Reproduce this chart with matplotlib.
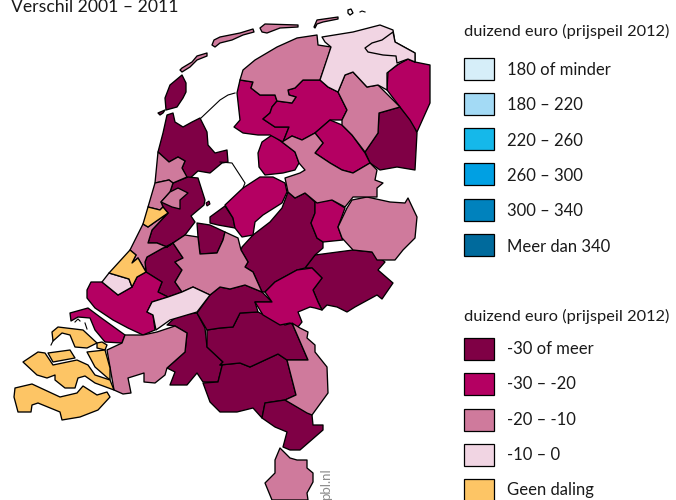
import matplotlib
matplotlib.use('Agg')
import matplotlib.pyplot as plt
from matplotlib.patches import Polygon, Rectangle

plt.rcParams['font.family'] = ['Lato', 'DejaVu Sans']

title = 'Verschil 2001 – 2011'
legend_title = 'duizend euro (prijspeil 2012)'
labels_top = ['180 of minder', '180 – 220', '220 – 260', '260 – 300', '300 – 340', 'Meer dan 340']
colors_top = ['#d6eef9', '#a3daf5', '#15b8ea', '#00a0e3', '#0082bd', '#006a9c']
labels_bottom = ['-30 of meer', '-30 – -20', '-20 – -10', '-10 – 0', 'Geen daling']
colors_bottom = ['#7f0045', '#b40062', '#cf7a9c', '#f1d5e3', '#fdc565']

dark = [
    [(167,115),(173,113),(175,122),(183,127),(192,122),(200,118),(207,132),(208,145),(215,153),(227,150),(228,162),(222,163),(210,173),(198,171),(188,180),(182,168),(185,161),(178,157),(169,162),(158,152),(163,133)],
    [(182,75),(186,83),(186,92),(183,98),(177,107),(166,110),(165,98),(170,85)],
    [(158,113),(165,110),(163,113),(160,115)],
    [(173,183),(188,177),(198,178),(205,200),(204,205),(191,216),(195,222),(185,235),(167,247),(157,243),(148,243),(152,230),(168,213),(163,207),(161,202),(170,192)],
    [(197,223),(210,225),(225,232),(223,240),(217,253),(200,254),(198,237)],
    [(210,217),(225,206),(233,218),(235,228),(218,225),(210,223)],
    [(145,262),(147,257),(163,248),(173,243),(183,258),(175,262),(182,270),(175,282),(182,292),(168,297),(158,292),(162,282),(146,272)],
    [(167,325),(178,315),(197,313),(205,328),(207,347),(223,362),(218,382),(203,382),(197,373),(187,385),(170,385),(175,372),(167,368),(185,352),(187,333),(175,326)],
    [(220,365),(240,363),(250,367),(278,354),(287,360),(296,395),(285,400),(265,403),(262,418),(253,408),(237,412),(220,412),(210,402),(203,383),(218,382),(223,362)],
    [(207,330),(220,328),(233,327),(240,313),(258,312),(285,325),(292,323),(308,360),(287,360),(278,354),(250,367),(240,363),(220,365),(223,362),(207,347)],
    [(265,403),(285,400),(312,415),(313,425),(323,425),(323,430),(300,450),(290,450),(283,447),(287,432),(275,427),(262,418)],
    [(305,268),(315,255),(353,250),(372,252),(385,262),(378,270),(393,283),(382,299),(377,295),(355,307),(347,312),(337,307),(327,305),(322,310),(318,302),(313,290),(322,278),(312,268)],
    [(242,247),(253,235),(270,222),(282,208),(288,192),(295,198),(305,193),(315,202),(315,213),(311,223),(317,238),(323,242),(323,248),(315,255),(305,268),(297,270),(275,282),(265,292),(262,292),(253,272),(245,267),(248,262),(241,250)],
    [(220,287),(230,289),(245,285),(262,292),(272,302),(255,302),(258,312),(240,313),(233,327),(220,328),(207,330),(197,313),(210,295)],
    [(365,152),(378,133),(379,113),(400,107),(413,123),(417,133),(415,170),(397,167),(380,170),(370,163)],
]
magenta = [
    [(87,290),(91,282),(102,282),(118,295),(132,287),(137,277),(146,272),(162,282),(158,292),(168,297),(152,302),(147,312),(153,315),(155,330),(143,335),(128,328),(113,320),(95,308),(87,298)],
    [(70,313),(88,308),(100,317),(125,335),(122,343),(105,342),(95,330),(90,318),(78,317),(71,321)],
    [(255,302),(272,302),(265,292),(275,282),(297,270),(312,268),(322,278),(313,290),(318,302),(322,310),(315,308),(310,307),(298,312),(302,322),(298,327),(290,323),(280,325),(263,315)],
    [(225,205),(243,188),(260,177),(273,177),(285,183),(287,192),(282,203),(263,215),(255,222),(253,235),(242,237),(235,228),(233,218)],
    [(258,153),(262,142),(272,135),(282,142),(295,152),(299,163),(295,170),(283,173),(265,175),(259,167)],
    [(240,80),(253,82),(251,88),(260,95),(275,95),(277,101),(272,107),(270,113),(263,119),(275,127),(289,127),(283,142),(270,135),(258,135),(243,133),(234,127),(240,120),(237,93)],
    [(288,90),(295,88),(303,80),(320,80),(328,87),(338,92),(347,110),(342,120),(330,120),(315,133),(302,140),(292,136),(283,142),(289,127),(275,127),(263,119),(270,113),(272,107),(277,101),(292,103),(296,97),(289,95)],
    [(315,133),(330,120),(342,125),(352,135),(365,153),(370,163),(353,173),(342,170),(330,163),(315,153),(323,143)],
    [(387,90),(388,72),(400,63),(408,59),(415,62),(430,65),(430,103),(417,132),(410,120),(400,107)],
    [(315,202),(332,200),(345,208),(338,227),(342,238),(343,240),(323,242),(317,238),(311,223),(315,213)],
]
pink = [
    [(180,70),(182,68),(192,62),(197,56),(207,53),(207,56),(197,60),(190,67),(182,72)],
    [(212,45),(214,40),(220,37),(240,33),(253,29),(254,32),(243,35),(232,40),(220,43),(215,47)],
    [(260,28),(265,24),(298,25),(298,27),(280,28),(267,33),(262,32)],
    [(314,27),(317,20),(338,17),(338,19),(323,22),(317,24),(315,28)],
    [(158,152),(169,162),(178,157),(185,161),(182,168),(187,177),(173,183),(169,180),(155,183)],
    [(155,183),(169,180),(173,183),(170,192),(161,202),(163,207),(160,210),(148,207)],
    [(161,202),(170,192),(178,188),(188,193),(180,200),(180,209),(172,207)],
    [(143,224),(148,227),(155,222),(168,213),(152,230),(148,243),(157,243),(167,247),(163,248),(147,257),(145,262),(146,272),(138,258),(132,263),(136,255),(130,250)],
    [(167,247),(185,235),(198,237),(200,254),(217,253),(223,240),(225,232),(238,238),(241,250),(248,262),(245,267),(253,272),(262,292),(245,285),(230,289),(220,287),(210,295),(193,287),(182,292),(175,282),(182,270),(175,262),(183,258),(173,243)],
    [(107,350),(122,343),(125,335),(143,335),(157,332),(175,326),(187,333),(185,352),(167,368),(165,375),(155,383),(144,382),(144,373),(128,378),(131,393),(123,394),(114,390),(110,367)],
    [(287,360),(308,360),(292,323),(300,328),(308,332),(307,338),(315,345),(315,352),(327,367),(328,393),(312,415),(307,413),(285,400),(296,395)],
    [(280,448),(290,458),(297,460),(307,460),(307,468),(313,473),(313,482),(307,493),(308,500),(272,500),(265,483),(275,473),(275,460)],
    [(240,80),(243,70),(255,60),(277,47),(297,38),(317,35),(318,45),(331,47),(328,57),(320,80),(303,80),(295,88),(288,90),(289,95),(296,97),(292,103),(277,101),(275,95),(260,95),(251,88),(253,82)],
    [(338,92),(345,75),(353,72),(367,87),(378,85),(400,107),(379,113),(378,133),(365,152),(352,135),(342,125),(342,120),(347,110)],
    [(338,227),(347,208),(352,200),(367,197),(390,202),(405,203),(408,198),(417,217),(415,238),(405,248),(403,250),(395,260),(377,260),(372,252),(353,250),(342,238)],
    [(282,142),(292,136),(302,140),(315,133),(323,143),(315,153),(330,163),(342,170),(353,173),(370,163),(377,170),(375,180),(383,183),(377,188),(377,197),(353,197),(345,207),(332,200),(317,203),(305,193),(295,198),(288,192),(285,178),(300,173),(305,170),(299,163),(295,152)],
]
light = [
    [(109,273),(129,279),(132,287),(118,295),(102,282)],
    [(147,312),(152,302),(168,297),(182,292),(193,287),(210,295),(197,312),(170,320),(156,330),(153,315)],
    [(322,37),(353,32),(380,25),(393,30),(395,42),(415,53),(415,62),(408,59),(397,65),(387,73),(387,90),(378,85),(367,87),(353,72),(345,75),(338,92),(328,87),(320,80),(331,47),(325,42)],
    [(365,48),(372,43),(382,40),(393,32),(395,42),(415,53),(415,62),(408,59),(397,63),(396,56),(383,55),(368,52)],
]
yellow = [
    [(148,207),(160,210),(163,207),(168,213),(155,222),(148,227),(143,224)],
    [(130,250),(136,255),(132,263),(138,258),(146,272),(137,277),(132,287),(129,279),(109,273)],
    [(52,332),(58,327),(83,330),(97,343),(87,348),(75,347),(70,335),(62,333),(53,341)],
    [(97,343),(102,342),(107,345),(105,350),(97,348)],
    [(87,352),(105,350),(110,368),(110,380),(95,367)],
    [(48,353),(70,350),(75,358),(53,362)],
    [(23,362),(38,352),(45,353),(53,365),(77,360),(88,365),(95,375),(110,380),(114,390),(95,383),(85,376),(78,378),(75,388),(65,388),(55,380),(55,375),(47,378),(37,375)],
    [(15,388),(32,384),(60,397),(77,393),(83,386),(97,395),(107,392),(110,397),(98,410),(80,417),(62,420),(60,412),(38,403),(32,405),(31,412),(18,412),(14,397)],
]
dijks = [
    [(201,118),(220,100),(228,95),(235,93)],
    [(220,162),(232,163),(245,183),(243,188)],
    [(360,12),(362,11),(365,12)],
    [(75,322),(78,319),(80,321)],
    [(85,323),(87,329)],
    [(53,341),(51,345)],
]
rottum = [(348,10),(351,9),(353,13),(350,15),(348,13)]
wieringen_dot = [(206,203),(209,201),(210,204),(207,206)]

fig = plt.figure(figsize=(6.76, 5), dpi=100)
ax = fig.add_axes([0, 0, 1, 1])
ax.set_xlim(0, 676)
ax.set_ylim(500, 0)
ax.axis('off')

groups = [(dark, colors_bottom[0]), (magenta, colors_bottom[1]), (pink, colors_bottom[2]),
          (light, colors_bottom[3]), (yellow, colors_bottom[4])]
for polys, col in groups:
    for p in polys:
        ax.add_patch(Polygon(p, closed=True, fc=col, ec='black', lw=0.95, joinstyle='round'))
ax.add_patch(Polygon(rottum, closed=True, fc='white', ec='black', lw=0.95))
ax.add_patch(Polygon(wieringen_dot, closed=True, fc=colors_bottom[0], ec='black', lw=0.8))
for d in dijks:
    ax.plot([q[0] for q in d], [q[1] for q in d], color='black', lw=0.8)

ax.text(11, 12, title, fontsize=12.7, color='#1a1a1a', va='baseline', clip_on=False)
ax.text(464, 36, legend_title, fontsize=11.8, color='#1a1a1a', va='baseline')
ax.text(464, 321, legend_title, fontsize=11.8, color='#1a1a1a', va='baseline')

for i, (lab, col) in enumerate(zip(labels_top, colors_top)):
    y = 57.5 + i * 35.3
    ax.add_patch(Rectangle((464, y), 30, 22, fc=col, ec='black', lw=0.9))
    ax.text(507, y + 12.5, lab, fontsize=12, color='#1a1a1a', va='center')
for i, (lab, col) in enumerate(zip(labels_bottom, colors_bottom)):
    y = 338 + i * 35.3
    ax.add_patch(Rectangle((464, y), 30, 22, fc=col, ec='black', lw=0.9))
    ax.text(507, y + 11, lab, fontsize=12, color='#1a1a1a', va='center')

ax.text(326, 500, 'pbl.nl', fontsize=9.5, color='#8c8c8c', rotation=90, ha='center', va='bottom')

fig.savefig('out.png', dpi=100)
